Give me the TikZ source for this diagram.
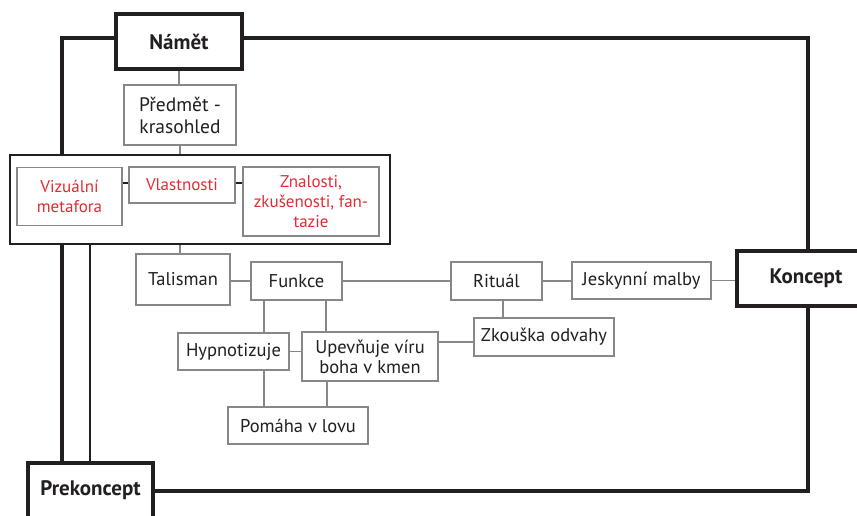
\documentclass[tikz,border=0pt]{standalone}
\usepackage{fontspec}
\setmainfont{PT Sans}
\definecolor{boxgray}{RGB}{135,135,135}
\definecolor{txt}{RGB}{35,31,32}
\definecolor{redtxt}{RGB}{225,45,50}
\begin{document}
\begin{tikzpicture}[x=1pt,y=-1pt,
  gbox/.style={draw=boxgray,line width=1.2pt,fill=white,inner sep=0pt,align=center,text=txt,
    font=\fontsize{18.5}{20}\selectfont},
  rbox/.style={gbox,text=redtxt,font=\fontsize{17}{20}\selectfont},
  bigbox/.style={draw=txt,line width=4pt,fill=white,inner sep=0pt,align=center,text=txt,
    font=\fontsize{21}{22}\selectfont\bfseries},
  gline/.style={draw=boxgray,line width=1.2pt},
  kline/.style={draw=txt,line width=1.8pt},
  thickline/.style={draw=txt,line width=4pt},
  midline/.style={draw=txt,line width=2.2pt}]
\useasboundingbox (0,0) rectangle (857,515);
\begin{scope}
\clip (0,0) rectangle (857,515);
% coordinates for outer frame
\coordinate (tl) at (62,38);
\coordinate (tr) at (808,38);
\coordinate (br) at (808,491);
\coordinate (ml) at (90,244);
% group frame
\node[draw=txt,line width=2pt,minimum width=380pt,minimum height=89pt,inner sep=0pt] (grp) at (200,199.5) {};
% nodes
\node[bigbox,minimum width=126pt,minimum height=55pt] (namet) at (179,41.5) {Námět};
\node[gbox,minimum width=112pt,minimum height=60pt,font=\fontsize{19.5}{22}\selectfont] (predmet) at (180,115) {Předmět -\\krasohled};
\node[rbox,minimum width=105pt,minimum height=58pt,anchor=north] (viz) at (69.5,167) {Vizuální\\metafora};
\node[rbox,minimum width=106pt,minimum height=36pt] (vlast) at (182,185) {Vlastnosti};
\node[rbox,minimum width=136pt,minimum height=69pt] (znal) at (311,201.5) {Znalosti,\\zkušenosti, fan-\\tazie};
\node[gbox,minimum width=94pt,minimum height=51pt] (talis) at (183,279.5) {Talisman};
\node[gbox,minimum width=91pt,minimum height=38pt] (funkce) at (296.5,281) {Funkce};
\node[gbox,minimum width=91pt,minimum height=38pt] (ritual) at (496.5,281) {Rituál};
\node[gbox,minimum width=139pt,minimum height=37pt] (jesk) at (641.5,280.5) {Jeskynní malby};
\node[bigbox,minimum width=138pt,minimum height=55pt,text width=138pt] (koncept) at (806,278.5) {Koncept};
\node[gbox,minimum width=111pt,minimum height=37pt] (hypno) at (233.5,351.5) {Hypnotizuje};
\node[gbox,minimum width=136pt,minimum height=49pt] (upev) at (370,356.5) {Upevňuje víru\\boha v kmen};
\node[gbox,minimum width=140pt,minimum height=38pt] (zkous) at (544,337) {Zkouška odvahy};
\node[gbox,minimum width=140pt,minimum height=37pt] (pomaha) at (298,425.5) {Pomáha v lovu};
\node[bigbox,minimum width=125pt,minimum height=55pt] (prek) at (90.5,490) {Prekoncept};
% outer thick frame
\draw[thickline] (namet.west |- tl) -- (tl) -- (tl |- grp.north);
\draw[thickline] (tl |- grp.south) -- (tl |- prek.north);
\draw[thickline] (namet.east |- tr) -- (tr) -- (tr |- koncept.north);
\draw[thickline] (br |- koncept.south) -- (br) -- (br -| prek.east);
\draw[midline] (ml) -- (ml |- prek.north);
% gray connectors
\draw[gline] (namet.south) -- (namet.south |- predmet.north);
\draw[gline] (predmet.south) -- (predmet.south |- grp.north);
\draw[gline] (predmet.south |- grp.south) -- (predmet.south |- talis.north);
\draw[kline] ([yshift=2pt]vlast.west) -- ([yshift=2pt]vlast.west -| viz.east);
\draw[kline] ([yshift=2pt]vlast.east) -- ([yshift=2pt]vlast.east -| znal.west);
\draw[gline] (funkce.west) -- (funkce.west -| talis.east);
\draw[gline] (funkce.east) -- (ritual.west);
\draw[gline] (ritual.east) -- (ritual.east -| jesk.west);
\draw[gline] (jesk.east) -- (jesk.east -| koncept.west);
\draw[gline] ([xshift=6.5pt]ritual.south) -- ([xshift=6.5pt]ritual.south |- zkous.north);
\draw[gline] ([xshift=-32.5pt]funkce.south) -- ([xshift=-32.5pt]funkce.south |- hypno.north);
\draw[gline] ([xshift=29.5pt]funkce.south) -- ([xshift=29.5pt]funkce.south |- upev.north);
\draw[gline] (hypno.east) -- (hypno.east -| upev.west);
\draw[gline] (zkous.west |- 0,342) -- (upev.east |- 0,342);
\draw[gline] ([xshift=30.5pt]hypno.south) -- ([xshift=30.5pt]hypno.south |- pomaha.north);
\draw[gline] ([xshift=-43pt]upev.south) -- ([xshift=-43pt]upev.south |- pomaha.north);
\end{scope}
\end{tikzpicture}
\end{document}
